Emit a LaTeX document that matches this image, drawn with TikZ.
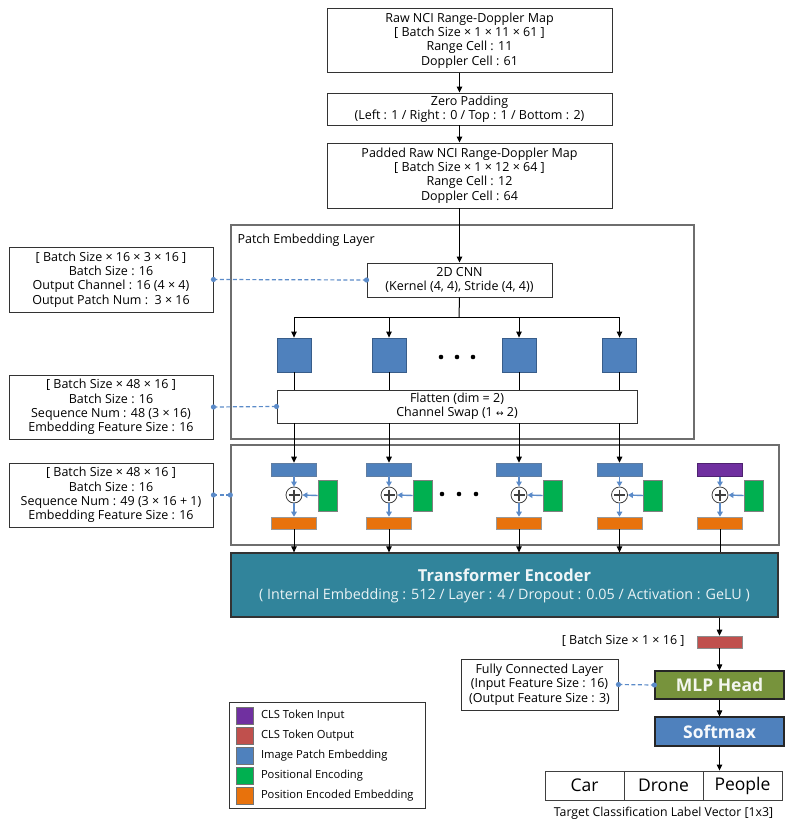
\documentclass[tikz,border=0pt]{standalone}
\usepackage{fontspec}
\setmainfont{Open Sans}
\newfontfamily\djv{DejaVu Sans}
\usetikzlibrary{arrows.meta,calc}
\definecolor{cpurple}{HTML}{7030A0}
\definecolor{cred}{HTML}{C0504D}
\definecolor{cblue}{HTML}{4F81BD}
\definecolor{cblueb}{HTML}{385D8A}
\definecolor{cgreen}{HTML}{00B050}
\definecolor{corange}{HTML}{E8720C}
\definecolor{cteal}{HTML}{31849B}
\definecolor{colive}{HTML}{77933C}
\definecolor{carrow}{HTML}{5B8BC9}
\definecolor{cgray}{HTML}{6E6E6E}
\newcommand{\fs}{\fontsize{12.5}{14.3}\selectfont}
\begin{document}
\begin{tikzpicture}[x=1pt,y=-1pt,
  box/.style={draw=black!80, line width=0.9pt, fill=white, align=center, inner sep=0pt, font=\fs},
  group/.style={draw=cgray, line width=1.3pt, inner sep=0pt},
  arr/.style={-{Triangle[length=6pt,width=5.5pt]}, line width=1pt},
  barr/.style={-{Triangle[length=5pt,width=5.5pt]}, line width=1.4pt, draw=carrow, color=carrow},
  dconn/.style={draw=carrow, line width=1.2pt, dash pattern=on 4pt off 2.5pt},
  sq/.style={draw=cblueb, fill=cblue, line width=0.8pt, minimum width=34, minimum height=34, inner sep=0pt},
  patch/.style={draw=cblueb!80, fill=cblue, line width=0.6pt, minimum width=45, minimum height=13, inner sep=0pt},
  penc/.style={draw=black!50, fill=cgreen, line width=0.6pt, minimum width=19, minimum height=31, inner sep=0pt},
  poe/.style={draw=black!40, fill=corange, line width=0.6pt, minimum width=45, minimum height=12, inner sep=0pt},
  plus/.style={circle, draw=black!75, fill=white, line width=0.8pt, minimum size=16, inner sep=0pt,
    path picture={\draw[line width=1.2pt] ($(path picture bounding box.center)+(-5.5,0)$) -- ++(11,0);
                  \draw[line width=1.2pt] ($(path picture bounding box.center)+(0,-5.5)$) -- ++(0,11);}},
  legsq/.style={draw=black!55, line width=0.6pt, minimum width=17, minimum height=17, inner sep=0pt},
  legtx/.style={anchor=west, font=\fontsize{11.2}{12}\selectfont, inner sep=0pt},
  cell/.style={draw=black!75, line width=0.9pt, minimum width=79, minimum height=29, inner sep=0pt, font=\fontsize{17.5}{20}\selectfont}
]
\useasboundingbox (0,0) rectangle (791,829);
\fill[white] (0,0) rectangle (791,829);

% top boxes
\node[box, minimum width=285, minimum height=64] (b1) at (469.5,40.5)
  {Raw NCI Range-Doppler Map\\{[}~Batch Size × 1 × 11 × 61~{]}\\Range Cell : 11\\Doppler Cell : 61};
\node[box, minimum width=285, minimum height=32] (b2) at (469.5,109)
  {Zero Padding\\(Left : 1 / Right : 0 / Top : 1 / Bottom : 2)};
\node[box, minimum width=285, minimum height=65] (b3) at (469.5,175.5)
  {Padded Raw NCI Range-Doppler Map\\{[}~Batch Size × 1 × 12 × 64~{]}\\Range Cell : 12\\Doppler Cell : 64};

% patch embedding layer
\node[group, minimum width=463, minimum height=214] (pe) at (462.5,332) {};
\node[anchor=west, font=\fs, inner sep=0pt] (pelabel) at ($(pe.north west)+(7,16)$) {Patch Embedding Layer};
\node[box, minimum width=185, minimum height=34] (cnn) at (459.5,280)
  {2D CNN\\(Kernel (4, 4), Stride (4, 4))};
\node[box, minimum width=360, minimum height=33] (fl) at (457,406.5)
  {Flatten (dim = 2)\\Channel Swap (1 {\djv\fontsize{9}{10}\selectfont ↔} 2)};

\draw[arr] (b1.south -| cnn) -- (b2.north -| cnn);
\draw[arr] (b2.south -| cnn) -- (b3.north -| cnn);
\draw[arr] (b3.south -| cnn) -- (cnn.north);

\coordinate (br) at (459,317);
\draw[line width=1pt] (cnn.south) -- (br);

\foreach \i/\x in {1/294,2/389,3/519,4/619.5}{
  \node[sq] (s\i) at (\x,355) {};
}
\draw[line width=1pt] (s1.north |- br) -- (s4.north |- br);
\foreach \i in {1,2,3,4}{
  \draw[arr] (s\i.north |- br) -- (s\i.north);
  \draw[line width=1pt] (s\i.south) -- (s\i.south |- fl.north);
}
\foreach \x in {441,457,473}{ \fill (\x,357) circle (2.3); }

% embedding container
\node[group, minimum width=548, minimum height=100] (ct) at (505,495) {};
\foreach \i/\x in {1/294,2/389,3/519,4/619.5,5/720}{
  \node[patch] (p\i) at (\x,469.5) {};
  \node[plus] (c\i) at (\x,495) {};
  \node[penc] (g\i) at (\x+33.5,495.5) {};
  \node[poe] (o\i) at (\x,523) {};
  \draw[barr] (p\i.south) -- (c\i.north);
  \draw[barr] (g\i.west) -- (c\i.east);
  \draw[barr] (c\i.south) -- (o\i.north);
}
\node[patch, fill=cpurple, draw=cpurple!70!black] at (p5) {};
\foreach \i in {1,2,3,4}{
  \draw[arr] (p\i.north |- fl.south) -- (p\i.north);
}
\foreach \x in {442,459,476}{ \fill (\x,494) circle (2.3); }

% transformer encoder
\node[draw=black!80, fill=cteal, line width=1.3pt, minimum width=547, minimum height=64, inner sep=0pt] (te) at (504.5,585) {};
\node[text=white!92!cteal, font=\fontsize{16.5}{19}\bfseries, inner sep=0pt] (tet) at ($(te.center)+(0,-10)$) {Transformer Encoder};
\node[text=white!90!cteal, font=\fontsize{14.3}{16}\selectfont, inner sep=0pt] (tes) at ($(te.center)+(0,11)$)
  {( Internal Embedding : 512 / Layer : 4 / Dropout : 0.05 / Activation : GeLU )};
\foreach \i in {1,2,3,4}{
  \draw[arr] (o\i.south) -- (o\i.south |- te.north);
}
\draw[line width=1pt] (o5.south) -- (o5.south |- te.north);

% head
\node[draw=black!45, fill=cred, line width=0.6pt, minimum width=45, minimum height=12, inner sep=0pt] (red) at (719.5,642) {};
\node[anchor=east, font=\fs, inner sep=0pt] (redl) at ($(red.west)+(-12,-1)$) {{[}~Batch Size × 1 × 16~{]}};
\node[draw=black!85, fill=colive, line width=1.2pt, minimum width=129, minimum height=28, inner sep=0pt,
  text=white!92!colive, font=\fontsize{17.5}{20}\bfseries] (mlp) at (719.5,685) {MLP Head};
\node[box, minimum width=157, minimum height=51] (fc) at (539.5,684.5)
  {Fully Connected Layer\\(Input Feature Size : 16)\\(Output Feature Size : 3)};
\node[draw=black!85, fill=cblue, line width=1.2pt, minimum width=129, minimum height=29, inner sep=0pt,
  text=white!95!cblue, font=\fontsize{17.5}{20}\bfseries] (sm) at (719.5,731.5) {Softmax};
\draw[arr] (te.south -| red) -- (red.north);
\draw[arr] (red.south) -- (mlp.north);
\draw[arr] (mlp.south) -- (sm.north);

\node[cell] (car) at (584.5,785.5) {Car};
\node[cell] (drone) at (663.5,785.5) {Drone};
\node[cell] (people) at (742.5,785.5) {People};
\draw[arr] (sm.south) -- (sm.south |- people.north);
\node[font=\fontsize{12.3}{13}\selectfont, inner sep=0pt] (cap) at (663.5,813) {Target Classification Label Vector [1x3]};

% left info boxes
\node[box, minimum width=204, minimum height=65] (la) at (111,279.5)
  {{[}~Batch Size × 16 × 3 × 16~{]}\\Batch Size : 16\\Output Channel : 16 (4 × 4)\\Output Patch Num :~~3 × 16};
\node[box, minimum width=204, minimum height=64] (lb) at (111,407)
  {{[}~Batch Size × 48 × 16~{]}\\Batch Size : 16\\Sequence Num : 48 (3 × 16)\\Embedding Feature Size : 16};
\node[box, minimum width=204, minimum height=64] (lc) at (111,495)
  {{[}~Batch Size × 48 × 16~{]}\\Batch Size : 16\\Sequence Num : 49 (3 × 16 + 1)\\Embedding Feature Size : 16};

\draw[dconn] (la.east) -- (cnn.west);
\draw[dconn] (lb.east) -- (fl.west);
\draw[dconn] (lc.east) -- (ct.west);
\draw[dconn] (fc.east) -- (mlp.west);
\foreach \a in {la.east, cnn.west, lb.east, fl.west, lc.east, ct.west, fc.east, mlp.west}{
  \fill[carrow] (\a) circle (2.6);
}

% legend
\node[draw=black!80, line width=0.9pt, minimum width=196, minimum height=106, inner sep=0pt] (leg) at (327,755) {};
\foreach \i/\c/\t in {0/cpurple/CLS Token Input,1/cred/CLS Token Output,2/cblue/Image Patch Embedding,3/cgreen/Positional Encoding,4/corange/Position Encoded Embedding}{
  \node[legsq, fill=\c] (lq\i) at (244.5,716+20*\i) {};
  \node[legtx] (lt\i) at ($(lq\i.east)+(7.5,0)$) {\t};
}
\end{tikzpicture}
\end{document}
